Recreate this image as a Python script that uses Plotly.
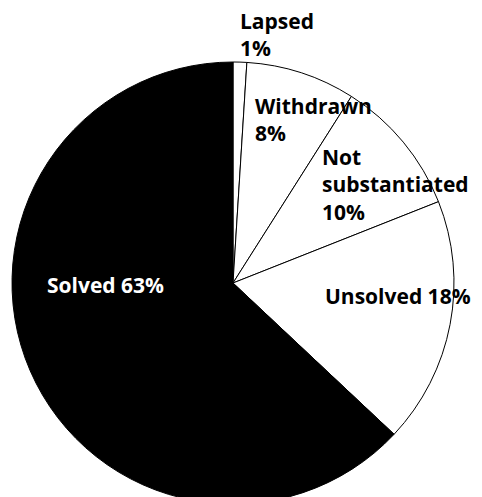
import plotly.graph_objects as go

# Case outcomes, clockwise from 12 o'clock
categories = ["Lapsed", "Withdrawn", "Not substantiated", "Unsolved", "Solved"]
shares = [1, 8, 10, 18, 63]
fill_colors = ["white", "white", "white", "white", "black"]

# Label text per category and the top-left pixel of its text box
label_text = [
    "Lapsed<br>{v}%",
    "Withdrawn<br>{v}%",
    "Not<br>substantiated<br>{v}%",
    "Unsolved {v}%",
    "Solved {v}%",
]
label_origin = [(238, 5), (253, 90), (320, 141), (323, 280), (45, 269)]
label_color = ["black", "black", "black", "black", "white"]

W, H = 482, 505
ML, MR, MT, MB = 12, 28, 61, 0
PW, PH = W - ML - MR, H - MT - MB

fig = go.Figure(
    go.Pie(
        labels=categories,
        values=shares,
        sort=False,
        direction="clockwise",
        rotation=0,
        marker=dict(colors=fill_colors, line=dict(color="black", width=1)),
        textinfo="none",
        hoverinfo="skip",
        showlegend=False,
    )
)

for txt, v, (px, py), col in zip(label_text, shares, label_origin, label_color):
    fig.add_annotation(
        text="<b>" + txt.format(v=v) + "</b>",
        xref="paper", yref="paper",
        x=(px - ML) / PW, y=1 - (py - MT) / PH,
        xanchor="left", yanchor="top", align="left",
        showarrow=False,
        font=dict(family="Open Sans", size=21, color=col),
    )

fig.update_layout(
    width=W, height=H,
    margin=dict(l=ML, r=MR, t=MT, b=MB),
    paper_bgcolor="white", plot_bgcolor="white",
)

fig.write_html(
    "out.html",
    post_script="document.documentElement.style.overflow='hidden';document.body.style.overflow='hidden';",
)
